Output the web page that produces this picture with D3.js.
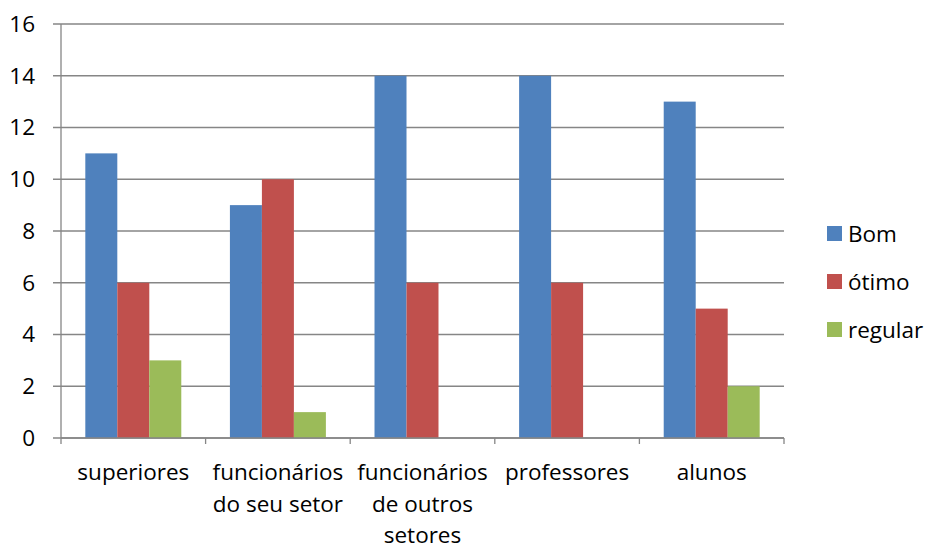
<!DOCTYPE html>
<html>
<head>
<meta charset="utf-8">
<script src="https://cdn.jsdelivr.net/npm/d3@7"></script>
<style>
  body { margin: 0; background: #fff; }
  svg text { font-family: "Open Sans", Lato, sans-serif; fill: #000; }
</style>
</head>
<body>
<div id="chart"></div>
<script>
// data
var categories = [
    ['superiores'],
    ['funcionários', 'do seu setor'],
    ['funcionários', 'de outros', 'setores'],
    ['professores'],
    ['alunos']
];
var seriesNames = ['Bom', 'ótimo', 'regular'];
var bom = [11, 9, 14, 14, 13];
var otimo = [6, 10, 6, 6, 5];
var regular = [3, 1, 0, 0, 2];
var yTicks = [0, 2, 4, 6, 8, 10, 12, 14, 16];
var colors = ['#4F81BD', '#C0504D', '#9BBB59'];

var width = 929, height = 550;
var margin = { left: 61, right: 145, top: 24, bottom: 112 };
var plotW = width - margin.left - margin.right;
var plotH = height - margin.top - margin.bottom;
var fontSize = '22.5px';

var svg = d3.select('#chart').append('svg')
    .attr('width', width)
    .attr('height', height);

var g = svg.append('g')
    .attr('transform', 'translate(' + margin.left + ',' + margin.top + ')');

var x0 = d3.scaleBand()
    .domain(d3.range(categories.length))
    .range([0, plotW])
    .paddingInner(0)
    .paddingOuter(0);

var x1 = d3.scaleBand()
    .domain(seriesNames)
    .range([0, x0.bandwidth()])
    .paddingOuter(0.76);

var y = d3.scaleLinear()
    .domain([0, 16])
    .range([plotH, 0]);

// gridlines
g.append('g')
    .selectAll('line')
    .data(yTicks)
    .enter().append('line')
    .attr('x1', -8)
    .attr('x2', plotW)
    .attr('y1', function (d) { return y(d); })
    .attr('y2', function (d) { return y(d); })
    .attr('stroke', '#868686')
    .attr('stroke-width', 1.3);

// y labels
g.append('g')
    .selectAll('text')
    .data(yTicks)
    .enter().append('text')
    .attr('x', -26)
    .attr('y', function (d) { return y(d); })
    .attr('dy', '0.35em')
    .attr('text-anchor', 'end')
    .style('font-size', fontSize)
    .text(function (d) { return d; });

// bars
var rows = categories.map(function (c, i) {
    return [bom[i], otimo[i], regular[i]];
});

var groups = g.append('g')
    .selectAll('g')
    .data(rows)
    .enter().append('g')
    .attr('transform', function (d, i) { return 'translate(' + x0(i) + ',0)'; });

groups.selectAll('rect')
    .data(function (d) { return d.map(function (v, j) { return { key: seriesNames[j], value: v, j: j }; }); })
    .enter().append('rect')
    .attr('x', function (d) { return x1(d.key); })
    .attr('width', x1.bandwidth())
    .attr('y', function (d) { return y(d.value); })
    .attr('height', function (d) { return plotH - y(d.value); })
    .attr('fill', function (d) { return colors[d.j]; });

// axes lines
g.append('line')
    .attr('x1', 0).attr('x2', 0)
    .attr('y1', 0).attr('y2', plotH)
    .attr('stroke', '#868686')
    .attr('stroke-width', 1.3);

g.append('line')
    .attr('x1', 0).attr('x2', plotW)
    .attr('y1', plotH).attr('y2', plotH)
    .attr('stroke', '#868686')
    .attr('stroke-width', 1.3);

var boundaries = d3.range(categories.length + 1).map(function (i) {
    return i < categories.length ? x0(i) : plotW;
});

g.append('g')
    .selectAll('line')
    .data(boundaries)
    .enter().append('line')
    .attr('x1', function (d) { return d; })
    .attr('x2', function (d) { return d; })
    .attr('y1', plotH)
    .attr('y2', plotH + 6)
    .attr('stroke', '#868686')
    .attr('stroke-width', 1.3);

// x labels
var xl = g.append('g')
    .selectAll('text')
    .data(categories)
    .enter().append('text')
    .attr('text-anchor', 'middle')
    .style('font-size', fontSize)
    .attr('transform', function (d, i) {
        return 'translate(' + (x0(i) + x0.bandwidth() / 2) + ',' + (plotH + 42) + ')';
    });

xl.selectAll('tspan')
    .data(function (d) { return d; })
    .enter().append('tspan')
    .attr('x', 0)
    .attr('y', function (d, k) { return k * 31.5; })
    .text(function (d) { return d; });

// legend
var legend = svg.append('g')
    .attr('transform', 'translate(827,226)');

var items = legend.selectAll('g')
    .data(seriesNames)
    .enter().append('g')
    .attr('transform', function (d, i) { return 'translate(0,' + (i * 48) + ')'; });

items.append('rect')
    .attr('width', 15)
    .attr('height', 15)
    .attr('fill', function (d, i) { return colors[i]; });

items.append('text')
    .attr('x', 21)
    .attr('y', 8)
    .attr('dy', '0.35em')
    .style('font-size', fontSize)
    .text(function (d) { return d; });
</script>
</body>
</html>
